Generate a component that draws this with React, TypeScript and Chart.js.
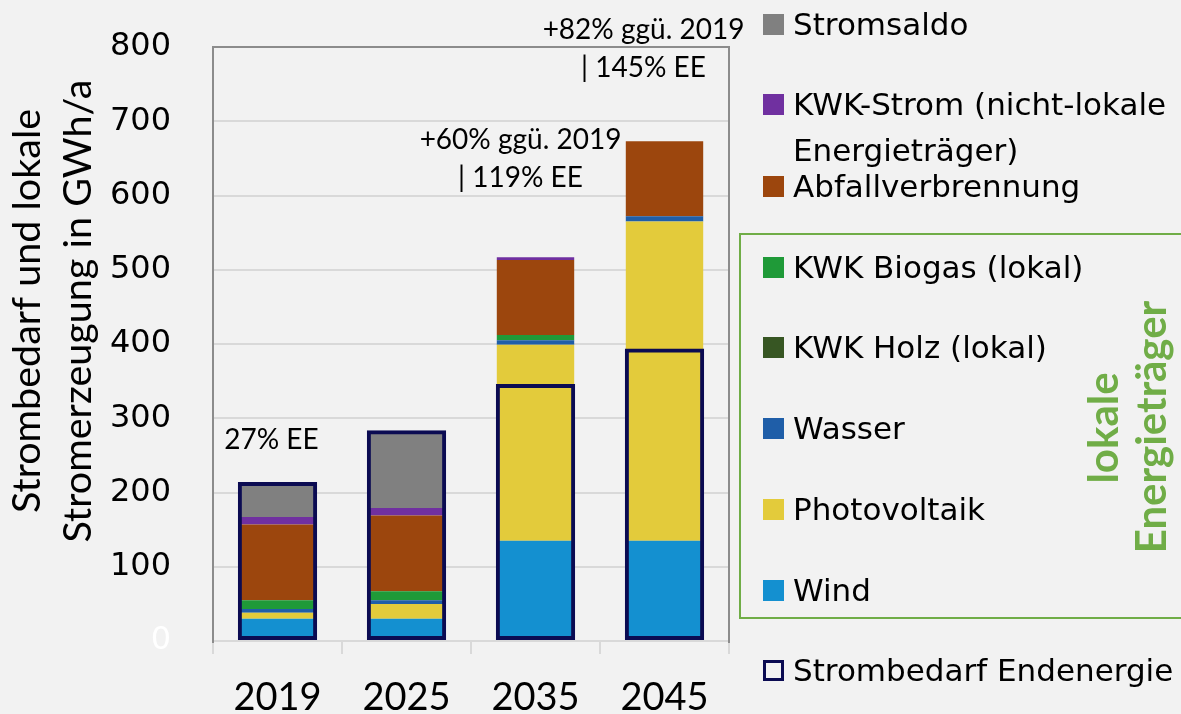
import React, { useEffect, useRef } from "react";
import { Chart, registerables } from "chart.js";

Chart.register(...registerables);

// ---------------- data ----------------
const categories = ["2019", "2025", "2035", "2045"];
const wind = [30, 30, 135, 135];
const photovoltaik = [8, 20, 264, 430];
const wasser = [5, 5, 6, 7];
const kwkHolz = [0, 0, 0, 0];
const kwkBiogas = [12, 12, 7, 0];
const abfallverbrennung = [102, 102, 101, 101];
const kwkStrom = [10, 10, 4, 0];
const stromsaldo = [45, 101, 0, 0];
const strombedarf = [214, 284, 346, 394];
const yTickValues = [0, 100, 200, 300, 400, 500, 600, 700, 800];
const annotationTexts: string[][] = [
  ["27% EE"],
  [],
  ["+60% ggü. 2019", "| 119% EE"],
  ["+82% ggü. 2019", "| 145% EE"],
];
const yTitleLines = ["Strombedarf und lokale", "Stromerzeugung in GWh/a"];
const groupLabelLines = ["lokale", "Energieträger"];

// ---------------- styles ----------------
const COLORS = {
  wind: "#1490d0",
  pv: "#e3cb3b",
  wasser: "#1f5ea8",
  holz: "#375623",
  biogas: "#1f9a38",
  abfall: "#9c460d",
  kwk: "#7030a0",
  saldo: "#808080",
  demand: "#0b0b52",
  green: "#70ad47",
};

const LEGEND = [
  { lines: ["Stromsaldo"], color: COLORS.saldo, y: 24 },
  { lines: ["KWK-Strom (nicht-lokale", "Energieträger)"], color: COLORS.kwk, y: 104 },
  { lines: ["Abfallverbrennung"], color: COLORS.abfall, y: 186 },
  { lines: ["KWK Biogas (lokal)"], color: COLORS.biogas, y: 267 },
  { lines: ["KWK Holz (lokal)"], color: COLORS.holz, y: 347 },
  { lines: ["Wasser"], color: COLORS.wasser, y: 428 },
  { lines: ["Photovoltaik"], color: COLORS.pv, y: 509 },
  { lines: ["Wind"], color: COLORS.wind, y: 590 },
  { lines: ["Strombedarf Endenergie"], color: COLORS.demand, y: 670, hollow: true },
];

// annotation layout (pixel offsets)
const annotationDx = [-6, 0, -15, -21];
const annotationTopY = [440, 0, 140, 30];
const ANNOT_LINE = 38;

const decorPlugin = {
  id: "decor",
  afterDatasetsDraw(chart: any) {
    const ctx = chart.ctx;
    const xs = chart.scales.x;
    ctx.save();
    ctx.fillStyle = "#000";
    ctx.font = "28px Lato";
    ctx.textAlign = "center";
    ctx.textBaseline = "middle";
    annotationTexts.forEach((lines, i) => {
      const x = xs.getPixelForValue(i) + annotationDx[i];
      lines.forEach((t, k) => {
        ctx.fillText(t, x, annotationTopY[i] + k * ANNOT_LINE);
      });
    });
    ctx.restore();
  },
  afterDraw(chart: any) {
    const ctx = chart.ctx;
    const a = chart.chartArea;
    ctx.save();
    // plot frame
    ctx.strokeStyle = "#8c8c8c";
    ctx.lineWidth = 2;
    ctx.beginPath();
    ctx.moveTo(a.left, a.bottom + 2);
    ctx.lineTo(a.left, a.top);
    ctx.lineTo(a.right, a.top);
    ctx.lineTo(a.right, a.bottom + 2);
    ctx.stroke();

    // y axis title
    ctx.fillStyle = "#000";
    ctx.font = "39.5px Lato";
    ctx.textAlign = "center";
    ctx.textBaseline = "alphabetic";
    const titleBaselines = [40, 91];
    yTitleLines.forEach((t, k) => {
      ctx.save();
      ctx.translate(titleBaselines[k], 311);
      ctx.rotate(-Math.PI / 2);
      ctx.fillText(t, 0, 0);
      ctx.restore();
    });

    // green group label
    ctx.fillStyle = COLORS.green;
    ctx.font = "bold 42px Lato";
    const groupBaselines = [1118, 1166];
    const groupCenters = [428, 427];
    groupLabelLines.forEach((t, k) => {
      ctx.save();
      ctx.translate(groupBaselines[k], groupCenters[k]);
      ctx.rotate(-Math.PI / 2);
      ctx.fillText(t, 0, 0);
      ctx.restore();
    });
    ctx.restore();
  },
};

export default function App() {
  const canvasRef = useRef<HTMLCanvasElement | null>(null);

  useEffect(() => {
    if (!canvasRef.current) return;
    const fillBar = (label: string, data: number[], color: string) => ({
      label,
      data,
      backgroundColor: color,
      borderWidth: 0,
      stack: "gen",
      grouped: false,
      barPercentage: 0.6,
      categoryPercentage: 1,
    });
    const chart = new Chart(canvasRef.current, {
      type: "bar",
      data: {
        labels: categories,
        datasets: [
          {
            label: "Strombedarf Endenergie",
            data: strombedarf,
            backgroundColor: "rgba(0,0,0,0)",
            borderColor: COLORS.demand,
            borderWidth: 4,
            borderSkipped: false,
            stack: "demand",
            grouped: false,
            barPercentage: 0.615,
            categoryPercentage: 1,
          } as any,
          fillBar("Wind", wind, COLORS.wind),
          fillBar("Photovoltaik", photovoltaik, COLORS.pv),
          fillBar("Wasser", wasser, COLORS.wasser),
          fillBar("KWK Holz (lokal)", kwkHolz, COLORS.holz),
          fillBar("KWK Biogas (lokal)", kwkBiogas, COLORS.biogas),
          fillBar("Abfallverbrennung", abfallverbrennung, COLORS.abfall),
          fillBar("KWK-Strom (nicht-lokale Energieträger)", kwkStrom, COLORS.kwk),
          fillBar("Stromsaldo", stromsaldo, COLORS.saldo),
        ],
      },
      options: {
        responsive: false,
        maintainAspectRatio: false,
        animation: false,
        devicePixelRatio: 1,
        layout: { padding: { top: 47, right: 452, bottom: 0, left: 0 } },
        plugins: {
          legend: { display: false },
          tooltip: { enabled: false },
          title: { display: false },
        },
        scales: {
          x: {
            stacked: true,
            grid: {
              offset: true,
              drawOnChartArea: false,
              drawTicks: true,
              tickLength: 13,
              color: "#d9d9d9",
              lineWidth: 2,
            },
            border: { display: true, color: "#d9d9d9", width: 2 },
            ticks: {
              color: "#000",
              font: { family: "Lato", size: 38 },
              padding: 21,
            },
            afterFit: (s: any) => {
              s.height = 73;
            },
          },
          y: {
            stacked: true,
            min: 0,
            max: 800,
            afterBuildTicks: (s: any) => {
              s.ticks = yTickValues.map((v) => ({ value: v }));
            },
            grid: {
              color: "#d9d9d9",
              lineWidth: 2,
              drawTicks: true,
              tickLength: 40,
              tickColor: "rgba(0,0,0,0)",
            },
            border: { display: false },
            ticks: {
              color: (c: any) => (c.tick && c.tick.value === 0 ? "#ffffff" : "#000000"),
              font: { family: "DejaVu Sans", size: 32 },
              padding: 2,
            },
            afterFit: (s: any) => {
              s.width = 213;
            },
          },
        },
      },
      plugins: [decorPlugin],
    });
    return () => chart.destroy();
  }, []);

  return (
    <div
      style={{
        position: "fixed",
        left: 0,
        top: 0,
        width: 1181,
        height: 714,
        background: "#f2f2f2",
        overflow: "hidden",
      }}
    >
      <canvas
        ref={canvasRef}
        width={1181}
        height={714}
        style={{ position: "absolute", left: 0, top: 0, width: 1181, height: 714 }}
      />
      {/* green frame around local sources */}
      <div
        style={{
          position: "absolute",
          left: 739,
          top: 233,
          width: 460,
          height: 386,
          border: `2px solid ${COLORS.green}`,
          boxSizing: "border-box",
          pointerEvents: "none",
        }}
      />
      {LEGEND.map((item, i) => (
        <div key={i}>
          <div
            style={{
              position: "absolute",
              left: 763,
              top: item.y - 10.5,
              width: 21,
              height: 21,
              boxSizing: "border-box",
              background: item.hollow ? "transparent" : item.color,
              border: item.hollow ? `3px solid ${item.color}` : "none",
            }}
          />
          {item.lines.map((t, k) => (
            <div
              key={k}
              style={{
                position: "absolute",
                left: 793,
                top: item.y - 23 + k * 46,
                height: 46,
                lineHeight: "46px",
                fontFamily: "DejaVu Sans",
                fontSize: 31,
                color: "#000",
                whiteSpace: "nowrap",
              }}
            >
              {t}
            </div>
          ))}
        </div>
      ))}
    </div>
  );
}
